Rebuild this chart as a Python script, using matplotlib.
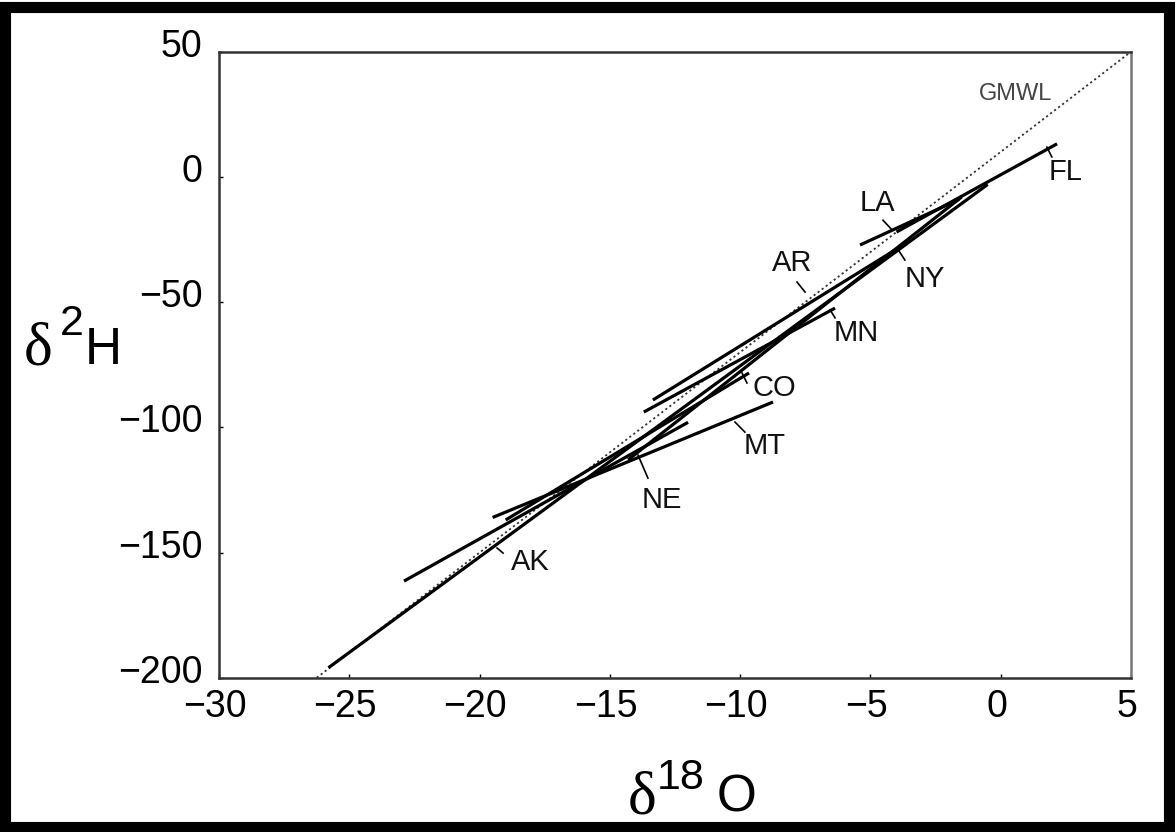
import numpy as np
import matplotlib.pyplot as plt
import matplotlib.transforms as mtransforms
from matplotlib.patches import Rectangle

plt.rcParams['font.family'] = ['Liberation Sans', 'DejaVu Sans']

# local meteoric water lines: (d18O start, d2H start, d18O end, d2H end)
states = ['NE', 'AK', 'CO', 'MT', 'MN', 'AR', 'NY', 'LA', 'FL']
x0 = [-25.8, -22.9, -19.0, -19.5, -13.7, -14.3, -13.35, -5.4, -4.0]
y0 = [-196.0, -161.4, -137.0, -136.0, -93.9, -113.0, -89.1, -27.2, -22.0]
x1 = [-0.5, -12.0, -9.66, -8.74, -6.36, -1.5, -3.87, -1.6, 2.16]
y1 = [-3.0, -98.0, -78.3, -89.9, -52.4, -8.0, -28.0, -9.0, 13.2]

# label positions and leader ticks (data units)
lab_x = [-13.0, -18.07, -8.70, -9.05, -5.56, -8.01, -2.91, -4.75, 2.5]
lab_y = [-129.0, -153.8, -84.3, -107.5, -62.3, -34.4, -40.8, -10.4, 2.0]
tick_x0 = [-13.54, -19.1, -9.74, -9.82, -6.36, -7.82, -3.68, -4.17, 1.96]
tick_y0 = [-120.3, -150.2, -82.3, -101.9, -56.3, -42.0, -33.2, -21.2, 7.95]
tick_x1 = [-13.92, -19.33, -9.93, -10.2, -6.55, -7.51, -3.98, -4.52, 1.77]
tick_y1 = [-111.1, -148.2, -78.3, -97.9, -53.1, -46.0, -28.4, -17.3, 11.9]

# global meteoric water line
gmwl_slope = 8
gmwl_int = 10
gmwl_x = np.array([-26.25, 5.0])

fig = plt.figure(figsize=(11.75, 8.32), dpi=100)
ax = fig.add_axes([0.1864, 0.1854, 0.7762, 0.7525])

ax.plot(gmwl_x, gmwl_slope * gmwl_x + gmwl_int, color='#333333', lw=1.3,
        linestyle=(0, (1.2, 1.6)), zorder=2)
ax.text(0.55, 33.1, 'GMWL', fontsize=17, color='#444444', ha='center', va='center')

for i, s in enumerate(states):
    ax.plot([x0[i], x1[i]], [y0[i], y1[i]], color='black', lw=2.3,
            solid_capstyle='butt', zorder=3)
    ax.plot([tick_x0[i], tick_x1[i]], [tick_y0[i], tick_y1[i]], color='black', lw=1.2)
    ax.text(lab_x[i], lab_y[i], s, fontsize=21, ha='center', va='center', color='#111111')

ax.set_xlim(-30, 5)
ax.set_ylim(-200, 50)
ax.set_xticks(np.arange(-30, 6, 5))
ax.set_yticks(np.arange(-200, 51, 50))
ax.tick_params(direction='in', length=3, width=1, labelsize=27, pad=8)
ax.tick_params(axis='y', pad=12)
for sp in ax.spines.values():
    sp.set_linewidth(1.8)
    sp.set_color('#333333')
ax.spines['right'].set_color('#777777')

# tick labels sit a little high / left in the original
up = mtransforms.ScaledTranslation(0, 6.5 / 72, fig.dpi_scale_trans)
for lbl in ax.get_yticklabels():
    lbl.set_transform(lbl.get_transform() + up)
left = mtransforms.ScaledTranslation(-3 / 72, 0, fig.dpi_scale_trans)
for lbl in ax.get_xticklabels():
    lbl.set_transform(lbl.get_transform() + left)

# axis labels built from pieces so the superscript stays large
fig.text(0.020, 0.562, 'δ', fontsize=44, ha='left', va='baseline', family='Liberation Serif')
fig.text(0.051, 0.597, '2', fontsize=31, ha='left', va='baseline')
fig.text(0.072, 0.562, 'H', fontsize=37, ha='left', va='baseline')

fig.text(0.534, 0.022, 'δ', fontsize=44, ha='left', va='baseline', family='Liberation Serif')
fig.text(0.559, 0.052, '18', fontsize=31, ha='left', va='baseline')
fig.text(0.610, 0.025, 'O', fontsize=37, ha='left', va='baseline')

# black frame round the whole picture
fig.patches.append(Rectangle((0.004, 0.006), 0.991, 0.986, transform=fig.transFigure,
                             fill=False, edgecolor='black', lw=8))

fig.savefig('out.png', dpi=100)
